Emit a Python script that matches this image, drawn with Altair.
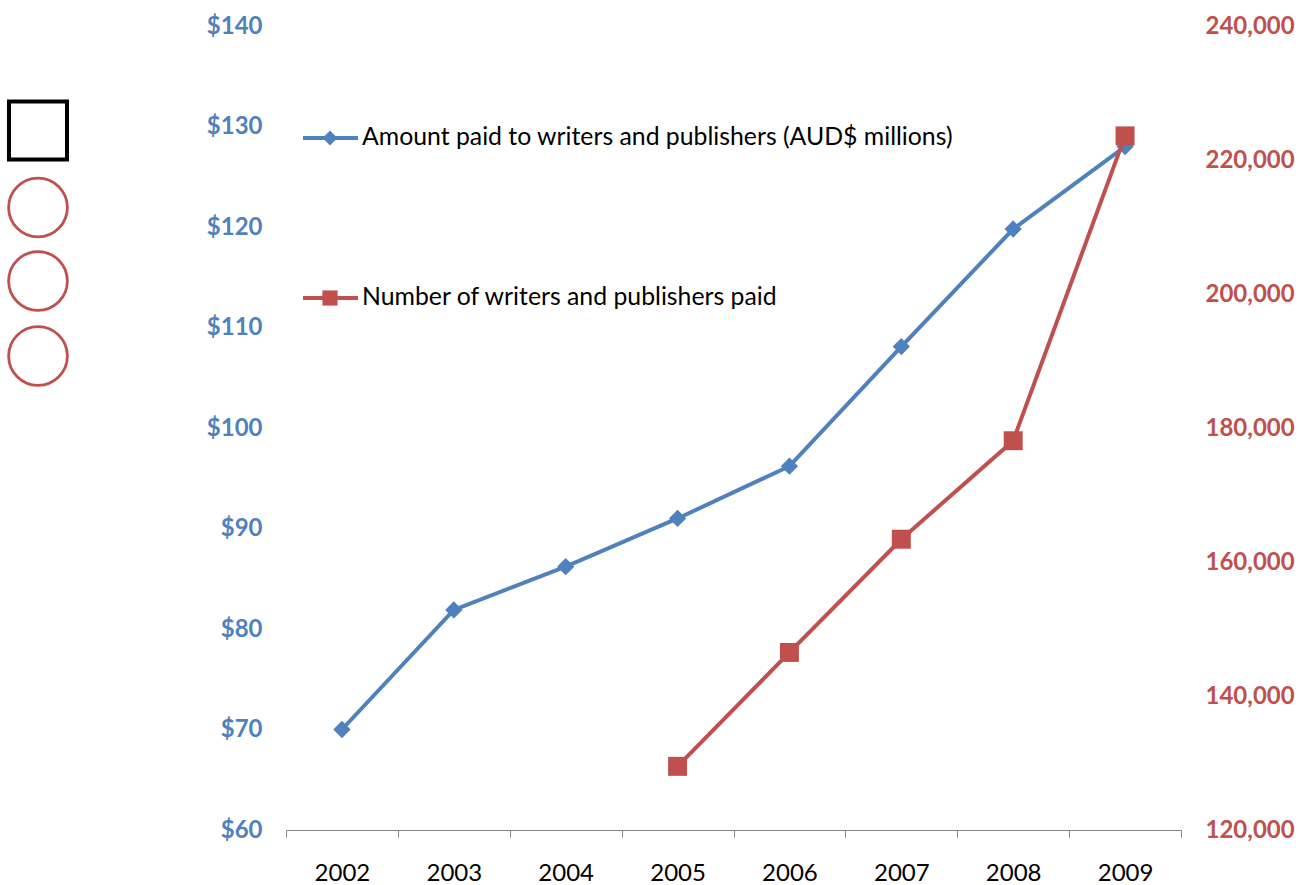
import altair as alt
import pandas as pd

years = ["2002", "2003", "2004", "2005", "2006", "2007", "2008", "2009"]
amount_paid = [70.0, 81.9, 86.2, 91.0, 96.2, 108.1, 119.8, 128.0]
writers_paid = [None, None, None, 129500, 146500, 163400, 178100, 223600]

legend_labels = ["Amount paid to writers and publishers (AUD$ millions)",
                 "Number of writers and publishers paid"]

BLUE = "#4F81BD"
RED = "#C0504D"
GRAY = "#868686"
FONT = "Lato"
FS = 24

df = pd.DataFrame({"year": years, "amount": amount_paid, "writers": writers_paid})

W, H = 895, 804

x_enc = alt.X("year:N", title=None,
              scale=alt.Scale(type="band", paddingInner=0, paddingOuter=0),
              axis=alt.Axis(labelAngle=0, tickBand="extent", domainColor=GRAY,
                            tickColor=GRAY, tickSize=7, labelFontSize=FS,
                            labelColor="#000000", labelFont=FONT, labelPadding=24,
                            grid=False))

base = alt.Chart(df)

blue_scale = alt.Scale(domain=[60, 140], nice=False, zero=False)
blue_axis = alt.Axis(orient="left", values=list(range(60, 141, 10)), domain=False, ticks=False,
                     grid=False, labelExpr="'$' + datum.value", labelColor=BLUE,
                     labelFontWeight="bold", labelFontSize=FS, labelFont=FONT,
                     labelPadding=24, title=None)

blue_line = base.mark_line(color=BLUE, strokeWidth=4).encode(
    x=x_enc, y=alt.Y("amount:Q", scale=blue_scale, axis=blue_axis))
blue_pts = base.mark_point(shape="diamond", filled=True, size=300, color=BLUE, opacity=1).encode(
    x=x_enc, y=alt.Y("amount:Q", scale=blue_scale, axis=blue_axis))

red_scale = alt.Scale(domain=[120000, 240000], nice=False, zero=False)
red_axis = alt.Axis(orient="right", values=list(range(120000, 240001, 20000)), domain=False,
                    ticks=False, grid=False, format=",d", labelColor=RED,
                    labelFontWeight="bold", labelFontSize=FS, labelFont=FONT,
                    labelPadding=24, title=None)

red_df = df.dropna(subset=["writers"])
red_base = alt.Chart(red_df)
red_line = red_base.mark_line(color=RED, strokeWidth=4).encode(
    x=x_enc, y=alt.Y("writers:Q", scale=red_scale, axis=red_axis))
red_pts = red_base.mark_point(shape="square", filled=True, size=360, color=RED, opacity=1).encode(
    x=x_enc, y=alt.Y("writers:Q", scale=red_scale, axis=red_axis))

# legend (inside plot, top-left)
def legend_entry(i, color, shape, size, y):
    d = alt.Chart(pd.DataFrame({"label": [legend_labels[i]]}))
    line = d.mark_rule(color=color, strokeWidth=4).encode(
        x=alt.value(17), x2=alt.value(72), y=alt.value(y))
    pt = d.mark_point(shape=shape, filled=True, size=size, color=color, opacity=1).encode(
        x=alt.value(44), y=alt.value(y))
    txt = d.mark_text(align="left", baseline="middle", font=FONT, fontSize=24.8,
                      color="#000000").encode(x=alt.value(76), y=alt.value(y), text="label:N")
    return line + pt + txt

leg1 = legend_entry(0, BLUE, "diamond", 220, 112)
leg2 = legend_entry(1, RED, "square", 230, 272)

# decorative shapes at far left
deco = alt.Chart(pd.DataFrame({"k": [0]}))
sq = deco.mark_point(shape="square", filled=False, size=3364, color="#000000",
                     strokeWidth=4, opacity=1).encode(x=alt.value(-248), y=alt.value(104.5))
circles = [deco.mark_point(shape="circle", filled=False, size=3450, color=RED,
                           strokeWidth=2.8, opacity=1).encode(x=alt.value(-248), y=alt.value(yy))
           for yy in (181.5, 255, 330)]

left = alt.layer(blue_line, blue_pts)
right = alt.layer(red_line, red_pts)

chart = alt.layer(left, right, leg1, leg2, sq, *circles).resolve_scale(y="independent").properties(
    width=W, height=H,
    background="#ffffff",
    autosize=alt.AutoSizeParams(type="none"),
    padding={"left": 286, "top": 26, "right": 130, "bottom": 55},
).configure_view(stroke=None, strokeWidth=0).configure_axisY(
    domain=False, ticks=False, grid=False)

chart.save("out.html", embed_options={"renderer": "svg", "actions": False})
